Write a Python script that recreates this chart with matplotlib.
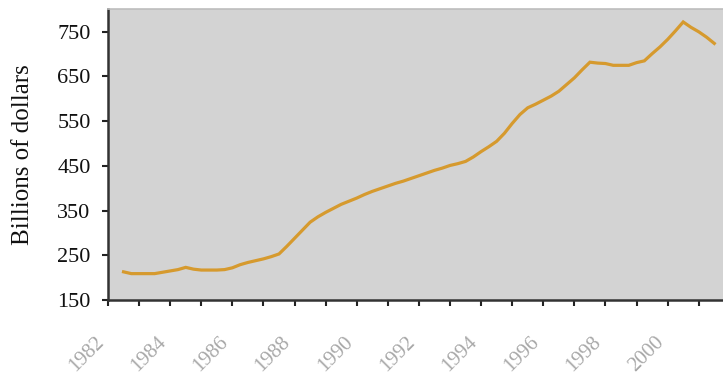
import numpy as np
import matplotlib.pyplot as plt
from matplotlib.ticker import FixedLocator
from matplotlib.transforms import ScaledTranslation

# quarterly values, 1982 Q3 .. 2001 Q3 (billions of dollars)
quarters = np.arange(1982.5, 2001.51, 0.25)
billions = [
    213, 209, 209, 209, 209, 212, 215, 218, 223, 219,
    217, 217, 217, 218, 222, 229, 234, 238, 242, 247,
    253, 270, 288, 306, 324, 336, 346, 355, 364, 371,
    378, 386, 393, 399, 405, 411, 416, 422, 428, 434,
    440, 445, 451, 455, 460, 470, 482, 493, 505, 523,
    545, 565, 580, 588, 597, 606, 617, 632, 647, 665,
    682, 680, 679, 675, 675, 675, 681, 685, 701, 716,
    733, 752, 772, 760, 750, 738, 724,
]
label_years = list(range(1982, 2001, 2))
odd_years = list(range(1983, 2002, 2))
y_ticks = [150, 250, 350, 450, 550, 650, 750]

serif = ["Liberation Serif", "DejaVu Serif"]

fig = plt.figure(figsize=(7.23, 3.77), dpi=100)
ax = fig.add_axes([108 / 723, 1 - 300 / 377, 615 / 723, 291 / 377])
ax.set_facecolor("#d3d3d3")

ax.plot(quarters, billions, color="#d69a2e", linewidth=2.3, solid_joinstyle="miter")

ax.set_xlim(1982, 2001.78)
ax.set_ylim(150, 801)

ax.set_yticks(y_ticks)
ax.set_yticklabels([str(v) for v in y_ticks], family=serif, fontsize=16, color="#111111")
ax.set_ylabel("Billions of dollars", family=serif, fontsize=18, color="#111111")
ax.yaxis.set_label_coords(-0.138, 0.5)
ax.yaxis.label.set_va("center")

ax.xaxis.set_major_locator(FixedLocator(label_years))
ax.xaxis.set_minor_locator(FixedLocator(odd_years))
ax.set_xticklabels([str(y) for y in label_years], family=serif, fontsize=15,
                   color="#a8a8a8", rotation=45, ha="right")
shift = ScaledTranslation(6 / 100, 0, fig.dpi_scale_trans)
for lbl in ax.get_xticklabels():
    lbl.set_transform(lbl.get_transform() + shift)

ax.tick_params(axis="y", which="both", direction="out", length=4.5, width=1.5, color="#222222", pad=8)
ax.tick_params(axis="x", which="both", direction="out", length=4.5, width=1.5, color="#222222", pad=19)

for side in ("left", "bottom"):
    ax.spines[side].set_color("#333333")
    ax.spines[side].set_linewidth(1.8)
ax.spines["top"].set_color("#bdbdbd")
ax.spines["top"].set_linewidth(1.2)
ax.spines["right"].set_visible(False)

fig.savefig("out.png", dpi=100)
